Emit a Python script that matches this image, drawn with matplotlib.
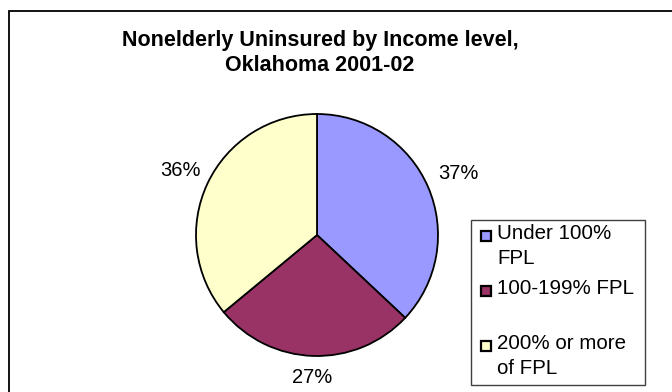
import numpy as np
import matplotlib.pyplot as plt
from matplotlib.patches import Rectangle

plt.rcParams['font.family'] = ['Liberation Sans', 'DejaVu Sans']

# income groups and their share of the nonelderly uninsured
labels = ['Under 100%\nFPL', '100-199% FPL', '200% or more\nof FPL']
shares = [37, 27, 36]
colors = ['#9999FF', '#993366', '#FFFFCC']
pct_dist = [1.27, 1.18, 1.25]

W, H = 672, 392
fig = plt.figure(figsize=(W / 100, H / 100), dpi=100)

# pie centre and radius in pixels
cx, cy, r = 317, 235, 121
ax = fig.add_axes([(cx - r) / W, (H - cy - r) / H, 2 * r / W, 2 * r / H])
wedges, _ = ax.pie(shares, colors=colors, startangle=90, counterclock=False,
                   wedgeprops=dict(edgecolor='black', linewidth=1.3))
ax.set_xlim(-1, 1)
ax.set_ylim(-1, 1)
ax.set_aspect('equal')
ax.axis('off')

for w, val, d in zip(wedges, shares, pct_dist):
    mid = np.deg2rad((w.theta1 + w.theta2) / 2)
    ax.text(d * np.cos(mid), d * np.sin(mid), f'{val}%', ha='center', va='center',
            fontsize=14.5, clip_on=False)

fig.text(320 / W, 1 - 53 / H, 'Nonelderly Uninsured by Income level,\nOklahoma 2001-02',
         ha='center', va='center', fontsize=15.5, fontweight='bold', linespacing=1.25)

# chart area frame
fig.patches.append(Rectangle((9 / W, -0.1), 1.2, 1.1 - 11 / H, transform=fig.transFigure,
                             fill=False, edgecolor='black', linewidth=1.3))

# legend box
lx0, ly0, lx1, ly1 = 471, 220, 645, 385
fig.patches.append(Rectangle((lx0 / W, 1 - ly1 / H), (lx1 - lx0) / W, (ly1 - ly0) / H,
                             transform=fig.transFigure, fill=False,
                             edgecolor='#404040', linewidth=1.0))
sq = 10
for i, (lab, col) in enumerate(zip(labels, colors)):
    y = 236 + 55 * i
    fig.patches.append(Rectangle((481 / W, 1 - (y + sq / 2) / H), sq / W, sq / H,
                                 transform=fig.transFigure, facecolor=col,
                                 edgecolor='black', linewidth=1.6))
    fig.text(497 / W, 1 - (y - 12) / H, lab, ha='left', va='top', fontsize=14.8,
             linespacing=1.4)

fig.savefig('out.png', dpi=100)
